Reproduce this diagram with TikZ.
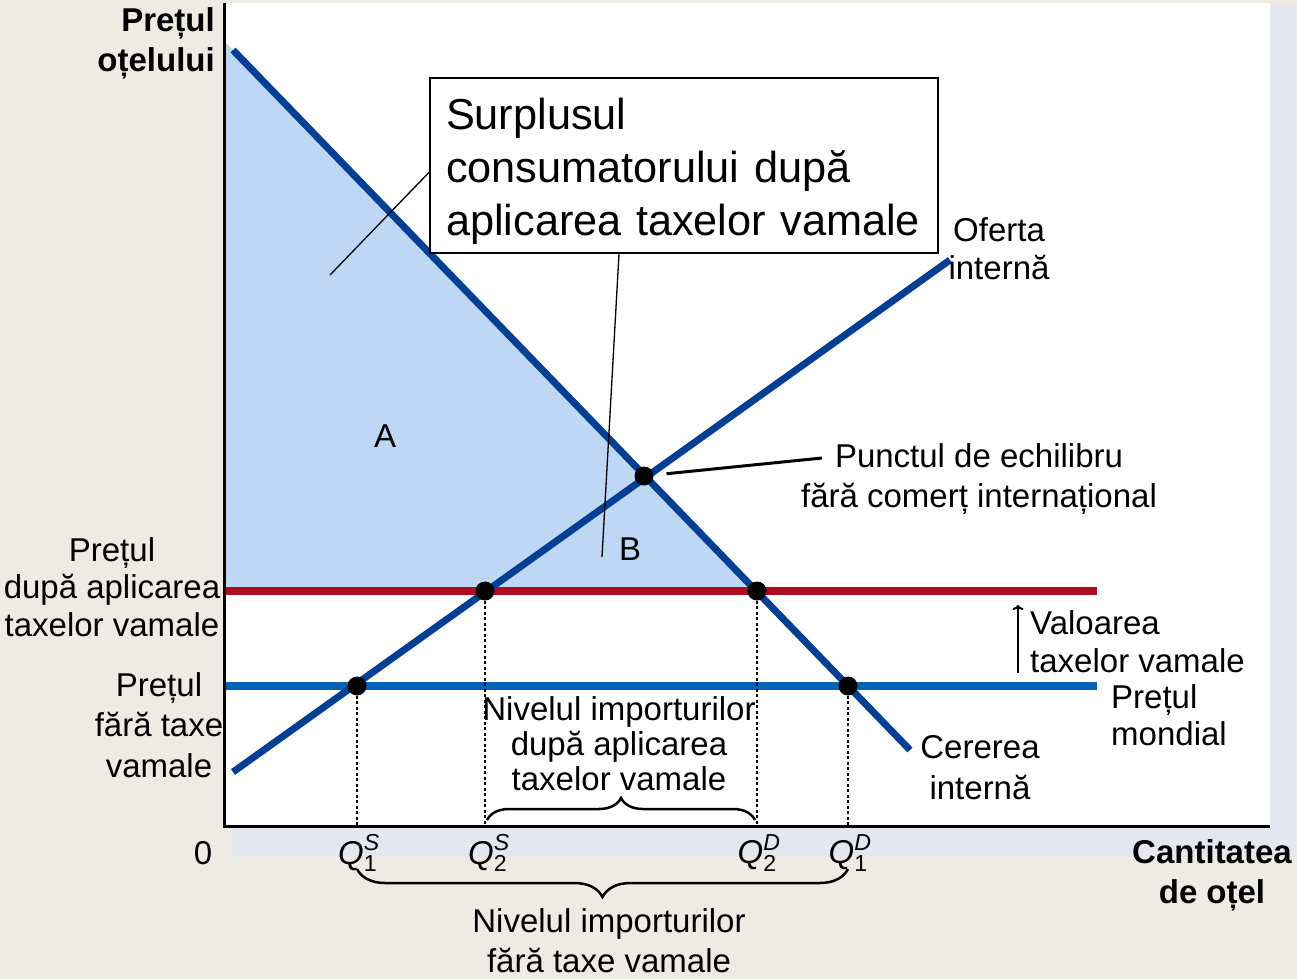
\documentclass[tikz,border=0pt]{standalone}
\usepackage{amsmath}
\usepackage{fontspec}
\setmainfont{Liberation Sans}
\usetikzlibrary{decorations.pathreplacing,arrows.meta}
\definecolor{bgbeige}{HTML}{EEEBE3}
\definecolor{shadowblue}{HTML}{E4E7F0}
\definecolor{curveblue}{HTML}{003F94}
\definecolor{worldblue}{HTML}{0563B5}
\definecolor{tariffred}{HTML}{AD0D1E}
\definecolor{surplusfill}{HTML}{BDD7F5}
\tikzset{
	lbl/.style={font=\fontsize{33}{#1}\selectfont,align=center,inner sep=0pt},
	lbl/.default=38,
	axislbl/.style={font=\fontsize{33}{40}\selectfont\bfseries,align=center,inner sep=0pt},
	curveline/.style={curveblue,line width=7pt},
	hline/.style={line width=8.5pt},
	eqdot/.style={circle,fill=black,inner sep=0pt,minimum size=19pt},
	guide/.style={dash pattern=on 3pt off 2.5pt,line width=2.5pt},
	pointer/.style={line width=1.3pt},
	surplusbox/.style={draw,line width=1.3pt,fill=white,font=\fontsize{43.3}{53}\selectfont,text width=492pt,inner xsep=8pt,inner ysep=0pt,minimum height=175pt},
	bracepath/.style={decorate,decoration={brace,amplitude=#1},line width=2.5pt}
}
\begin{document}
\begin{tikzpicture}[x=1pt,y=-1pt]
	\useasboundingbox (0,0) rectangle (1297,979);
	\fill[bgbeige] (0,0) rectangle (1297,979);
	\fill[shadowblue] (1270,5) rectangle (1297,857);
	\fill[shadowblue] (232,826) rectangle (1297,857);
	\fill[white] (226,3) rectangle (1270,825);
	\coordinate (ytop) at (224,3);
	\coordinate (o) at (224,826);
	\coordinate (xend) at (1270,826);
	\coordinate (dstart) at (233,50);
	\coordinate (dend) at (910,750);
	\coordinate (sstart) at (233,772);
	\coordinate (send) at (950,260);
	\coordinate (pt0) at (226,591);
	\coordinate (pt1) at (1097,591);
	\coordinate (pw0) at (226,686);
	\coordinate (pw1) at (1097,686);
	\fill[surplusfill] (226,42.8) -- (757,591) -- (pt0) -- cycle;
	\draw[tariffred,hline] (pt0) -- (pt1);
	\draw[worldblue,hline] (pw0) -- (pw1);
	\draw[curveline] (dstart) -- (dend);
	\draw[curveline] (sstart) -- (send);
	\node[eqdot] (eq) at (644,476) {};
	\node[eqdot] (q1s) at (357,686) {};
	\node[eqdot] (q2s) at (485,591) {};
	\node[eqdot] (q2d) at (757,591) {};
	\node[eqdot] (q1d) at (848,686) {};
	\foreach \p in {q1s,q2s,q2d,q1d}
		\draw[guide] (\p.south) -- (\p |- o);
	\draw[line width=3pt] (ytop) -- (o) -- (xend);

	\node[surplusbox] (surplus) at (684,165.5) {\rule{0pt}{42pt}\hspace*{8pt}Surplusul\\\hspace*{8pt}consumatorului după\\\hspace*{8pt}aplicarea taxelor vamale};
	\coordinate (ptA) at (330,275);
	\coordinate (ptB) at (602,557);
	\draw[pointer] ([yshift=-6.5pt]surplus.west) -- (ptA);
	\draw[pointer] ([xshift=-65pt]surplus.south) -- (ptB);

	\node[lbl] (alb) at (385,436) {A};
	\node[lbl] (blb) at (630,549) {B};
	\node[lbl] (supplylbl) at (999,249) {Oferta\\internă};
	\node[lbl=41] (demandlbl) at (980,768) {Cererea\\internă};
	\node[lbl=40] (eqlbl) at (979,479) {Punctul de echilibru\\fără comerț internațional};
	\coordinate (eqtip) at (822,458);
	\draw[line width=3pt,shorten <=13pt] (eq) -- (eqtip);
	\node[lbl=37.5] (ptlbl) at (112,587) {Prețul\\după aplicarea\\taxelor vamale};
	\node[lbl=40.5] (pwlbl) at (159,725) {Prețul\\fără taxe\\vamale};
	\node[lbl,anchor=west,align=left] (tarlbl) at (1030,642) {Valoarea\\taxelor vamale};
	\coordinate (tarb) at (1018,673);
	\coordinate (tart) at (1018,605);
	\draw[-{To[length=5pt,width=11pt]},line width=2pt] (tarb) -- (tart);
	\node[lbl=37,anchor=west,align=left] (worldlbl) at (1111,715) {Prețul\\mondial};
	\node[lbl=35] (implbl) at (619,744) {Nivelul importurilor\\după aplicarea\\taxelor vamale};
	\coordinate (bru0) at (487,820);
	\coordinate (bru1) at (755,820);
	\draw[bracepath=22pt] (bru0) -- (bru1);

	\node[axislbl,anchor=east,align=right] (ylbl) at (215,43) {Prețul\\oțelului};
	\node[axislbl] (xlbl) at (1212,875) {Cantitatea\\de oțel};
	\node[lbl] (zero) at (203,853) {0};
	\node[lbl] (q1slbl) at (359,853) {$\textit{Q}^{\textit{S}}_{\text{1}}$};
	\node[lbl] (q2slbl) at (489,853) {$\textit{Q}^{\textit{S}}_{\text{2}}$};
	\node[lbl] (q2dlbl) at (759,853) {$\textit{Q}^{\textit{D}}_{\text{2}}$};
	\node[lbl] (q1dlbl) at (850,853) {$\textit{Q}^{\textit{D}}_{\text{1}}$};
	\coordinate (brl0) at (357,869);
	\coordinate (brl1) at (848,869);
	\draw[bracepath=28pt,decoration={mirror}] (brl0) -- (brl1);
	\node[lbl=40] (imp0lbl) at (609,941) {Nivelul importurilor\\fără taxe vamale};
\end{tikzpicture}
\end{document}
